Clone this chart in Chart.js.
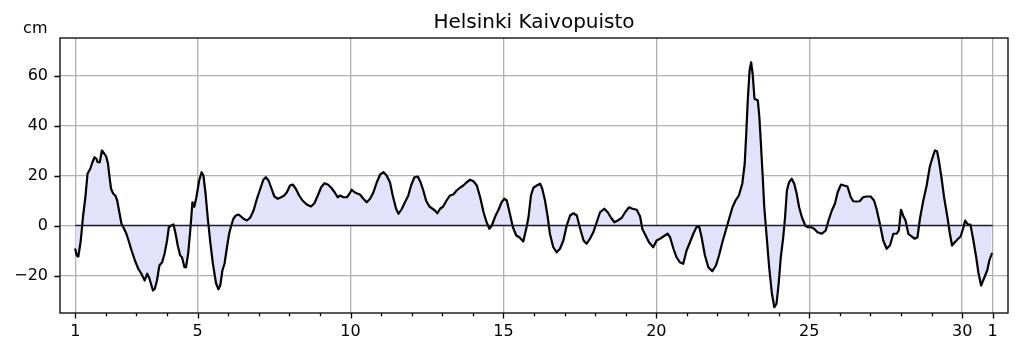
<!DOCTYPE html>
<html>
<head>
<meta charset="utf-8">
<script src="https://cdn.jsdelivr.net/npm/chart.js@4/dist/chart.umd.min.js"></script>
<style>
  html, body { margin: 0; padding: 0; background: #fff; }
  #wrap { width: 1019px; height: 352px; }
</style>
</head>
<body>
<div id="wrap"><canvas id="c" width="1019" height="352"></canvas></div>
<script>
// ---- data ----
const days = [
  1.00,1.05,1.10,1.18,1.25,1.33,1.40,1.49,1.56,1.63,1.69,1.73,1.80,1.87,1.95,2.01,2.07,2.12,2.17,2.24,
  2.31,2.37,2.43,2.51,2.58,2.67,2.76,2.84,2.95,3.06,3.16,3.27,3.35,3.41,3.46,3.54,3.60,3.67,3.75,3.84,
  3.92,4.00,4.06,4.14,4.21,4.28,4.35,4.43,4.49,4.57,4.62,4.69,4.76,4.83,4.89,4.96,5.05,5.13,5.19,5.26,
  5.34,5.42,5.50,5.60,5.68,5.74,5.81,5.88,5.96,6.03,6.10,6.17,6.25,6.34,6.42,6.50,6.61,6.72,6.83,6.94,
  7.05,7.15,7.23,7.32,7.40,7.51,7.62,7.73,7.83,7.92,8.02,8.11,8.21,8.32,8.43,8.57,8.71,8.82,8.93,9.04,
  9.15,9.26,9.37,9.48,9.58,9.66,9.77,9.88,9.95,10.04,10.13,10.24,10.31,10.42,10.53,10.64,10.75,10.86,10.97,11.08,
  11.18,11.29,11.38,11.49,11.57,11.68,11.78,11.89,11.98,12.09,12.20,12.29,12.38,12.47,12.58,12.68,12.76,12.84,12.93,13.03,
  13.14,13.25,13.36,13.47,13.58,13.69,13.80,13.91,14.02,14.13,14.24,14.35,14.45,14.54,14.62,14.73,14.84,14.94,15.03,15.11,
  15.20,15.31,15.42,15.52,15.65,15.76,15.82,15.90,15.98,16.09,16.20,16.27,16.36,16.45,16.52,16.63,16.74,16.85,16.96,17.07,
  17.18,17.29,17.40,17.51,17.62,17.72,17.83,17.94,18.05,18.16,18.30,18.41,18.52,18.63,18.74,18.87,18.98,19.11,19.22,19.36,
  19.47,19.54,19.65,19.76,19.90,20.01,20.12,20.23,20.37,20.45,20.56,20.66,20.77,20.88,20.99,21.10,21.21,21.31,21.40,21.48,
  21.59,21.70,21.83,21.95,22.05,22.16,22.27,22.38,22.49,22.59,22.70,22.81,22.89,22.94,22.99,23.05,23.10,23.15,23.21,23.32,
  23.37,23.42,23.48,23.53,23.61,23.69,23.78,23.86,23.93,24.00,24.07,24.15,24.21,24.27,24.34,24.43,24.51,24.59,24.67,24.76,
  24.87,24.95,25.06,25.16,25.27,25.41,25.54,25.63,25.74,25.84,25.93,26.04,26.14,26.25,26.36,26.44,26.55,26.65,26.76,26.87,
  27.01,27.12,27.20,27.31,27.42,27.53,27.64,27.75,27.86,27.93,28.00,28.07,28.15,28.24,28.35,28.45,28.54,28.62,28.73,28.84,
  28.94,29.02,29.11,29.18,29.24,29.33,29.41,29.52,29.60,29.67,29.76,29.87,29.95,30.03,30.10,30.19,30.27,30.35,30.46,30.53,
  30.62,30.71,30.82,30.89,30.97
];
const levels = [
  -9.5,-12,-12.4,-6,3.3,11.3,20.7,22.7,25.3,27.3,26.7,25.3,25.3,30,28.7,27.6,24.7,19.3,14.7,12.7,
  12,10,6,0.7,-0.9,-3.3,-6.7,-10,-14,-17.3,-19.3,-22,-19.3,-20.7,-22.7,-26,-25.3,-22,-16,-14.7,
  -11.3,-6,-0.7,0,0.4,-3.3,-8,-12,-12.7,-16.7,-16.7,-11.3,-2,9.3,7.5,11.3,18,21.3,20,12.7,
  2,-7.3,-15.3,-23,-25.5,-24,-18,-15.3,-8.7,-3.3,0,2.7,4,4.4,3.6,2.7,2,3.1,6,10.7,
  14.7,18.3,19.3,18,15.3,11.6,10.7,11.3,12,13.3,16,16.4,14.7,12,10,8.4,7.6,8.9,12,15.3,
  16.9,16.4,15.1,13.3,11.3,12,11.3,11.3,12.4,14.3,13.3,12.7,12.4,10.7,9.3,10.7,13.3,17.3,20.4,21.3,
  20,17.3,12,6.7,4.7,6.7,9.3,12,16,19.3,19.6,17.3,14,10,7.6,6.7,6,4.9,6.7,7.6,
  10,12,12.4,14,15.1,16,17.3,18.3,17.7,16,11.3,5.3,1.3,-1.3,0,3.6,6.3,9.3,10.7,10,
  5.3,-0.7,-4,-4.7,-6.4,-0.5,3.3,12,15.1,16,16.7,14.7,10,3.3,-3.3,-8.7,-10.7,-9.3,-6,0,
  4,4.9,4,-1.3,-6,-7.3,-5.3,-2.7,1.3,5.3,6.7,5.3,3.1,1.3,2,3.1,5.3,7.3,6.7,6.3,
  3.6,-1.3,-4,-6.7,-8.7,-6,-5.3,-4.4,-3.3,-4.7,-9.3,-12.7,-14.7,-15.3,-10,-6.7,-3.3,-0.7,-0.4,-4.7,
  -12,-16.7,-18.3,-16,-12,-6.7,-2,2.7,7.3,10,12,16.7,24.7,36.7,50,62,65.3,60.7,50.7,50,
  43.3,32.7,19.3,7.3,-4.7,-16.7,-27.3,-32.7,-31.3,-23.3,-12.7,-4.7,3.3,14,17.3,18.7,16.7,12.7,7.3,3.3,
  0,-0.7,-0.7,-1.3,-2.7,-3.3,-2,2,6,8.7,13.3,16.4,16,15.6,11.3,9.7,9.6,9.7,11.3,11.6,
  11.6,10,6.7,0.7,-6,-9.3,-8,-3.3,-3.3,-2,6.3,4,2,-3.3,-4.4,-5.3,-4.7,2.7,10,16,
  23.3,26.7,30,29.7,26,18.7,11.3,3.3,-3.3,-8,-6.7,-5.3,-4.4,-1.3,2,0.4,0.4,-4.7,-12.7,-18.7,
  -24,-21.3,-18,-14,-11.3
];
const zeroLineDays = [1, 31];
const monthDays = Array.from({length: 31}, (_, i) => i + 1);   // minor ticks, every day
const tickDays = [1, 5, 10, 15, 20, 25, 30, 31];                 // labelled ticks
const tickLabels = ['1', '5', '10', '15', '20', '25', '30', '1'];
const yTicks = [-20, 0, 20, 40, 60];
const titleText = 'Helsinki Kaivopuisto';
const unitText = 'cm';

// ---- chart ----
const FONT = 'DejaVu Sans';
const series = days.map((d, i) => ({x: d, y: levels[i]}));
const zero = zeroLineDays.map(d => ({x: d, y: 0}));

const decor = {
  id: 'decor',
  afterDraw(chart) {
    const ctx = chart.ctx, a = chart.chartArea;
    const xs = chart.scales.x, ys = chart.scales.y;
    ctx.save();
    ctx.strokeStyle = '#000';
    ctx.lineWidth = 1.3;
    // tick marks
    ctx.beginPath();
    monthDays.forEach(d => {
      const px = Math.round(xs.getPixelForValue(d)) + 0.5;
      const len = tickDays.includes(d) ? 5.6 : 3.2;
      ctx.moveTo(px, a.bottom);
      ctx.lineTo(px, a.bottom + len);
    });
    yTicks.forEach(v => {
      const py = Math.round(ys.getPixelForValue(v)) + 0.5;
      ctx.moveTo(a.left, py);
      ctx.lineTo(a.left - 5.6, py);
    });
    ctx.stroke();
    // frame
    ctx.strokeRect(a.left, a.top, a.right - a.left, a.bottom - a.top);
    // title and unit
    ctx.fillStyle = '#000';
    ctx.font = '20px "' + FONT + '"';
    ctx.textAlign = 'center';
    ctx.textBaseline = 'alphabetic';
    ctx.fillText(titleText, (a.left + a.right) / 2, 27.5);
    ctx.font = '16px "' + FONT + '"';
    ctx.textAlign = 'right';
    ctx.fillText(unitText, 47.5, 33);
    ctx.restore();
  }
};

new Chart(document.getElementById('c'), {
  type: 'line',
  data: {
    datasets: [
      {
        data: series,
        borderColor: '#000',
        borderWidth: 2.2,
        borderJoinStyle: 'round',
        borderCapStyle: 'round',
        backgroundColor: 'rgb(226,226,250)',
        fill: 'origin',
        pointRadius: 0,
        tension: 0,
        order: 2
      },
      {
        data: zero,
        borderColor: '#1c1c30',
        borderWidth: 1.3,
        fill: false,
        pointRadius: 0,
        order: 1
      }
    ]
  },
  options: {
    responsive: false,
    animation: false,
    devicePixelRatio: 1,
    layout: { padding: { top: 38, left: 0, right: 11, bottom: 0 } },
    plugins: { legend: { display: false }, title: { display: false }, tooltip: { enabled: false } },
    scales: {
      x: {
        type: 'linear',
        min: 0.5,
        max: 31.5,
        afterBuildTicks: s => { s.ticks = monthDays.map(v => ({value: v})); },
        afterFit: s => { s.height = 39; },
        ticks: {
          autoSkip: false,
          maxRotation: 0,
          padding: 9,
          color: '#000',
          font: { family: FONT, size: 16 },
          callback: v => { const i = tickDays.indexOf(v); return i >= 0 ? tickLabels[i] : ''; }
        },
        grid: {
          drawTicks: false,
          lineWidth: 1.3,
          color: c => (c.tick && tickDays.includes(c.tick.value)) ? '#b0b0b0' : 'rgba(0,0,0,0)'
        },
        border: { display: false }
      },
      y: {
        min: -35,
        max: 75,
        afterBuildTicks: s => { s.ticks = yTicks.map(v => ({value: v})); },
        afterFit: s => { s.width = 60; },
        ticks: {
          padding: 12,
          color: '#000',
          font: { family: FONT, size: 16 },
          callback: v => v < 0 ? '\u2212' + Math.abs(v) : String(v)
        },
        grid: { drawTicks: false, lineWidth: 1.3, color: '#b0b0b0' },
        border: { display: false }
      }
    }
  },
  plugins: [decor]
});
</script>
</body>
</html>
